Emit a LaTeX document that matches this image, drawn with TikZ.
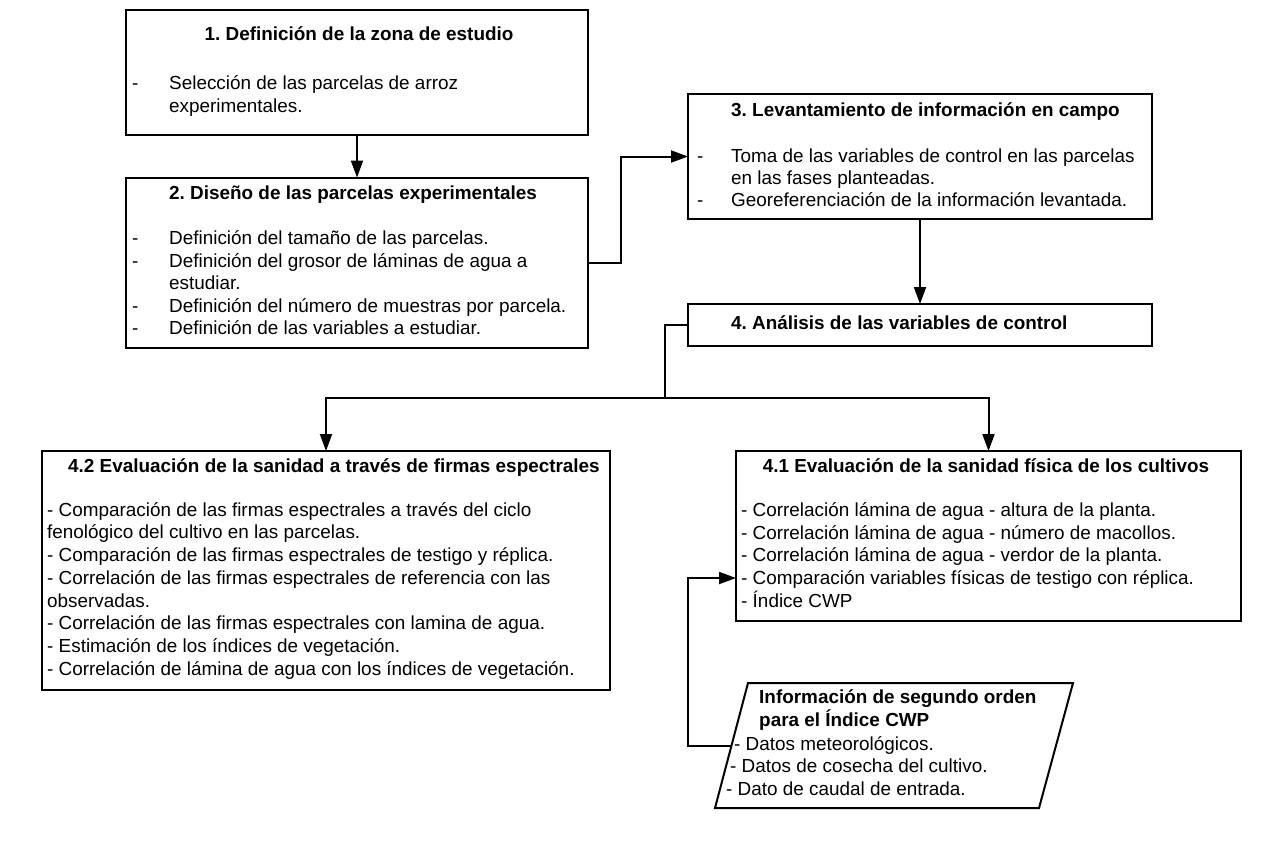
\documentclass[tikz,border=0pt]{standalone}
\usepackage{fontspec}
\setmainfont{Liberation Sans}
\usetikzlibrary{arrows.meta,calc}
\frenchspacing
\begin{document}
\begin{tikzpicture}[x=1pt,y=-1pt,
  box/.style={draw,line width=2pt,inner sep=0pt,outer sep=0pt},
  txt/.style={anchor=base west,inner sep=0pt,font=\fontsize{18.9}{22.75}\selectfont},
  ttl/.style={anchor=base,inner sep=0pt,font=\fontsize{18.9}{22.75}\selectfont\bfseries},
  ttlw/.style={anchor=base west,inner sep=0pt,font=\fontsize{18.9}{22.75}\selectfont\bfseries},
  conn/.style={line width=2pt},
  arr/.style={line width=2pt,-{Triangle[length=17pt,width=12pt]}}]
\useasboundingbox (0,0) rectangle (1284,852);
% boxes
\node[box,minimum width=462pt,minimum height=125pt] (b1) at (357,72.5) {};
\node[box,minimum width=462pt,minimum height=170pt] (b2) at (357,262.5) {};
\node[box,minimum width=464pt,minimum height=125pt] (b3) at (920,156.5) {};
\node[box,minimum width=464pt,minimum height=42pt] (b4) at (920,325) {};
\node[box,minimum width=568pt,minimum height=239pt] (b42) at (326,570.5) {};
\node[box,minimum width=505pt,minimum height=170pt] (b41) at (988.5,536) {};
% parallelogram
\coordinate (pTL) at (748,683);
\coordinate (pTR) at (1073,683);
\coordinate (pBR) at (1039,808);
\coordinate (pBL) at (715,808);
\coordinate (para) at ($(pTL)!0.5!(pBL)$);
\draw[line width=2pt,line join=miter] (pTL) -- (pTR) -- (pBR) -- (pBL) -- cycle;
% box 1
\node[ttl] (t1) at (359,40) {1. Definición de la zona de estudio};
\node[txt] (d1a) at (132,89.5) {-};
\node[txt] (l1a) at (169,89.5) {Selección de las parcelas de arroz};
\node[txt] (l1b) at (169,112.5) {experimentales.};
% box 2
\node[ttlw] (t2) at (169,199.5) {2. Diseño de las parcelas experimentales};
\node[txt] (d2a) at (132,244.5) {-};
\node[txt] (l2a) at (169,244.5) {Definición del tamaño de las parcelas.};
\node[txt] (d2b) at (132,267) {-};
\node[txt] (l2b) at (169,267) {Definición del grosor de láminas de agua a};
\node[txt] (l2c) at (169,289.5) {estudiar.};
\node[txt] (d2d) at (132,312) {-};
\node[txt] (l2d) at (169,312) {Definición del número de muestras por parcela.};
\node[txt] (d2e) at (132,334.5) {-};
\node[txt] (l2e) at (169,334.5) {Definición de las variables a estudiar.};
% box 3
\node[ttlw] (t3) at (731,116) {3. Levantamiento de información en campo};
\node[txt] (d3a) at (697,162) {-};
\node[txt] (l3a) at (731,162) {Toma de las variables de control en las parcelas};
\node[txt] (l3b) at (731,184.5) {en las fases planteadas.};
\node[txt] (d3c) at (697,206.5) {-};
\node[txt] (l3c) at (731,206.5) {Georeferenciación de la información levantada.};
% box 4
\node[ttlw] (t4) at (731,329.5) {4. Análisis de las variables de control};
% box 4.2
\node[ttl] (t42) at (334,472) {4.2 Evaluación de la sanidad a través de firmas espectrales};
\node[txt] (l42a) at (47,516) {- Comparación de las firmas espectrales a través del ciclo};
\node[txt] (l42b) at (47,538.75) {fenológico del cultivo en las parcelas.};
\node[txt] (l42c) at (47,561.5) {- Comparación de las firmas espectrales de testigo y réplica.};
\node[txt] (l42d) at (47,584.25) {- Correlación de las firmas espectrales de referencia con las};
\node[txt] (l42e) at (47,607) {observadas.};
\node[txt] (l42f) at (47,629.75) {- Correlación de las firmas espectrales con lamina de agua.};
\node[txt] (l42g) at (47,652.5) {- Estimación de los índices de vegetación.};
\node[txt] (l42h) at (47,675.25) {- Correlación de lámina de agua con los índices de vegetación.};
% box 4.1
\node[ttl] (t41) at (986,472) {4.1 Evaluación de la sanidad física de los cultivos};
\node[txt] (l41a) at (741,516) {- Correlación lámina de agua - altura de la planta.};
\node[txt] (l41b) at (741,539) {- Correlación lámina de agua - número de macollos.};
\node[txt] (l41c) at (741,561.75) {- Correlación lámina de agua - verdor de la planta.};
\node[txt] (l41d) at (741,584.5) {- Comparación variables físicas de testigo con réplica.};
\node[txt] (l41e) at (741,607.25) {- Índice CWP};
% parallelogram text
\node[ttlw] (tpa) at (759,703.5) {Información de segundo orden};
\node[ttlw] (tpb) at (759,726.5) {para el Índice CWP};
\node[txt] (lpa) at (734,750) {- Datos meteorológicos.};
\node[txt] (lpb) at (730,772.5) {- Datos de cosecha del cultivo.};
\node[txt] (lpc) at (726,795) {- Dato de caudal de entrada.};
% connectors
\coordinate (k1) at (621,262.5);
\coordinate (split) at (665,398);
\coordinate (k3) at (688,578);
\draw[arr] (b1.south) -- (b2.north);
\draw[arr] (b2.east) -- (k1) |- (b3.west);
\draw[arr] (b3.south) -- (b4.north);
\draw[conn] (b4.west) -| (split);
\draw[arr] (split) -| (b42.north);
\draw[arr] (split) -| (b41.north);
\draw[arr] (para) -| (k3) -- (k3 -| b41.west);
\end{tikzpicture}
\end{document}
